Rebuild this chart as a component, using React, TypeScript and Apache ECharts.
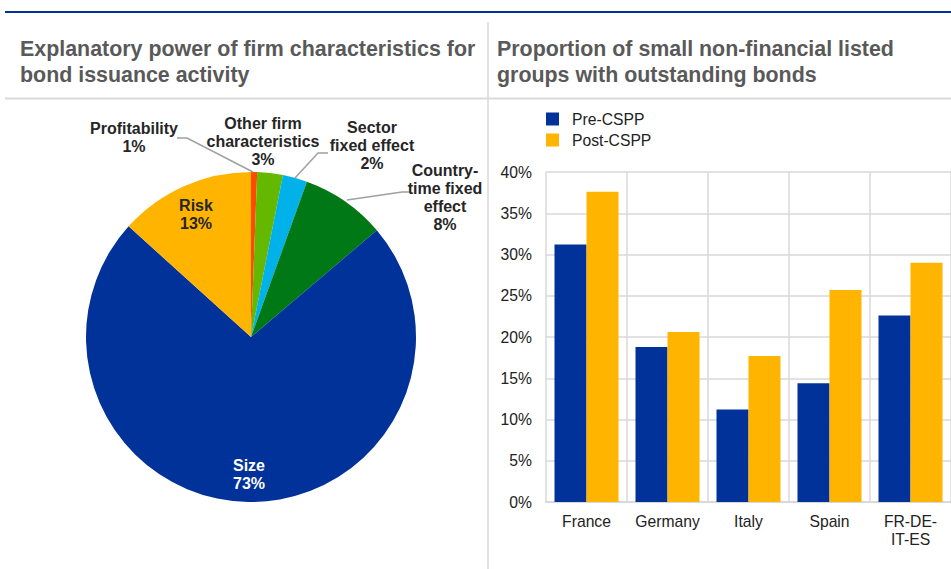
import React, { useEffect, useRef } from "react";
import * as echarts from "echarts";

const FONT = "'Liberation Sans', Arial, sans-serif";

const leftTitle = "Explanatory power of firm characteristics for\nbond issuance activity";
const rightTitle = "Proportion of small non-financial listed\ngroups with outstanding bonds";

const pieCategories = [
  "Profitability",
  "Other firm\ncharacteristics",
  "Sector\nfixed effect",
  "Country-\ntime fixed\neffect",
  "Size",
  "Risk",
];
const pieValues = [0.6, 2.5, 2.4, 8.3, 72.9, 13.3];
const pieColors = ["#ff4b00", "#65b800", "#00b1ea", "#007816", "#003299", "#ffb400"];

// label placement (text centre) and leader lines
const pieLabelPos: { x: number; y: number; line?: number[][] }[] = [
  { x: 134, y: 137, line: [[177, 138], [187, 138], [253, 172]] },
  { x: 263, y: 141 },
  { x: 372, y: 145, line: [[328, 153], [318, 153], [295, 178]] },
  { x: 445, y: 197, line: [[409, 192], [402, 192], [347, 200]] },
  { x: 249, y: 474 },
  { x: 196, y: 214 },
];

const barCategories = ["France", "Germany", "Italy", "Spain", "FR-DE-\nIT-ES"];
const preCSPP = [31.2, 18.8, 11.2, 14.4, 22.6];
const postCSPP = [37.6, 20.6, 17.7, 25.7, 29.0];
const seriesNames = ["Pre-CSPP", "Post-CSPP"];
const barColors = ["#003299", "#ffb400"];

export default function App() {
  const ref = useRef<HTMLDivElement>(null);
  useEffect(() => {
    if (!ref.current) return;
    const chart = echarts.init(ref.current, null, { renderer: "svg" });
    const titleStyle = {
      fontSize: 21.4,
      fontWeight: "bold" as const,
      color: "#595959",
      fontFamily: FONT,
      lineHeight: 26,
    };
    const leaderLines = pieLabelPos
      .filter((p) => p.line)
      .map((p) => ({
        type: "polyline",
        shape: { points: p.line },
        style: { stroke: "#a0a0a0", lineWidth: 1.5, fill: "none" },
        z: 10,
      }));
    chart.setOption({
      animation: false,
      backgroundColor: "#ffffff",
      textStyle: { fontFamily: FONT },
      title: [
        { text: leftTitle, left: 20, top: 36, textStyle: titleStyle, padding: 0 },
        { text: rightTitle, left: 497, top: 36, textStyle: titleStyle, padding: 0 },
      ],
      graphic: [
        { type: "line", shape: { x1: 5, y1: 12, x2: 951, y2: 12 }, style: { stroke: "#003299", lineWidth: 2 } },
        { type: "line", shape: { x1: 5, y1: 98.5, x2: 951, y2: 98.5 }, style: { stroke: "#d9d9d9", lineWidth: 2 } },
        { type: "line", shape: { x1: 488, y1: 22, x2: 488, y2: 569 }, style: { stroke: "#d9d9d9", lineWidth: 1.5 } },
        ...leaderLines,
      ],
      legend: {
        data: seriesNames,
        orient: "vertical",
        left: 546,
        top: 111,
        padding: 0,
        itemWidth: 13,
        itemHeight: 13,
        itemGap: 5,
        icon: "rect",
        textStyle: { fontSize: 15.7, color: "#222", fontFamily: FONT, padding: [0, 0, 0, 8] },
      },
      grid: { left: 546, right: 0, top: 172, bottom: 67 },
      xAxis: {
        type: "category",
        data: barCategories,
        boundaryGap: true,
        axisTick: { show: false },
        axisLine: { lineStyle: { color: "#d9d9d9", width: 2 } },
        splitLine: { show: true, interval: 0, lineStyle: { color: "#d9d9d9", width: 1.5 } },
        axisLabel: { interval: 0, fontSize: 15.7, color: "#222", margin: 10, lineHeight: 18, fontFamily: FONT },
      },
      yAxis: {
        type: "value",
        min: 0,
        max: 40,
        interval: 5,
        axisLine: { show: false },
        axisTick: { show: false },
        splitLine: { lineStyle: { color: "#d9d9d9", width: 1.5 } },
        axisLabel: { formatter: "{value}%", fontSize: 15.7, color: "#222", margin: 14, fontFamily: FONT },
      },
      series: [
        {
          type: "pie",
          center: [251, 337],
          radius: 165,
          startAngle: 90,
          clockwise: true,
          percentPrecision: 0,
          avoidLabelOverlap: false,
          data: pieCategories.map((name, i) => ({
            name,
            value: pieValues[i],
            itemStyle: { color: pieColors[i] },
            label: i === 4 ? { color: "#ffffff" } : undefined,
          })),
          label: {
            show: true,
            position: "outside",
            formatter: "{b}\n{d}%",
            fontSize: 16,
            fontWeight: "bold",
            lineHeight: 18,
            color: "#262626",
            align: "center",
            fontFamily: FONT,
          },
          labelLine: { show: false },
          labelLayout: (params: any) => {
            const p = pieLabelPos[params.dataIndex];
            return { x: p.x, y: p.y, align: "center", verticalAlign: "middle" };
          },
        },
        {
          type: "bar",
          name: seriesNames[0],
          data: preCSPP,
          barWidth: 32,
          barGap: "0%",
          itemStyle: { color: barColors[0] },
        },
        {
          type: "bar",
          name: seriesNames[1],
          data: postCSPP,
          barWidth: 32,
          barGap: "0%",
          itemStyle: { color: barColors[1] },
        },
      ],
    });
    return () => chart.dispose();
  }, []);
  return (
    <div
      ref={ref}
      style={{ position: "fixed", left: 0, top: 0, width: 951, height: 569, background: "#fff" }}
    />
  );
}
